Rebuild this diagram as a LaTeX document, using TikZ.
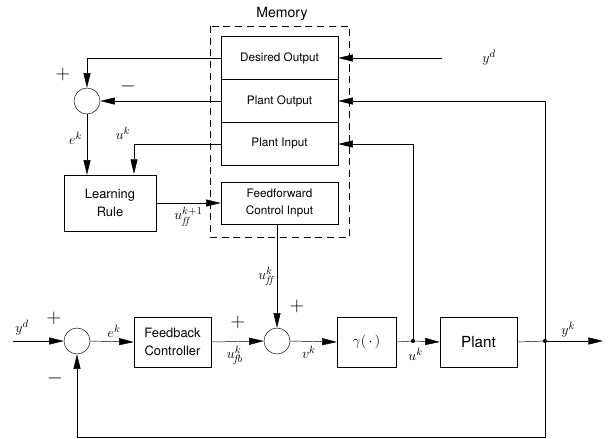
\documentclass[tikz,border=0pt]{standalone}
\usepackage{fontspec}
\setsansfont{TeX Gyre Heros}
\usetikzlibrary{arrows.meta}

\tikzset{
	block/.style={draw, thin, font=\sffamily\fontsize{11}{13}\selectfont, align=center, inner sep=0pt},
	memcell/.style={block, minimum width=3.51cm, minimum height=1.28cm, font=\sffamily\fontsize{10}{12}\selectfont},
	sum/.style={draw, thin, circle, minimum size=0.78cm, inner sep=0pt},
	sgn/.style={font=\fontsize{17}{17}\selectfont},
	lbl/.style={font=\fontsize{12.5}{14}\selectfont, inner sep=1pt},
	dot/.style={circle, fill, inner sep=0pt, minimum size=3.5pt},
}

\begin{document}
\begin{tikzpicture}[x=0.03cm, y=-0.03cm, >={Triangle[length=12.5pt, width=6pt]}, thin]
	\useasboundingbox (0,0) rectangle (610,438);

	% memory
	\node[font=\sffamily\fontsize{12}{14}\selectfont] (memlbl) at (282,14) {Memory};
	\draw[dashed, dash pattern=on 6pt off 4pt] (210,26) rectangle (349,237);
	\node[memcell] (desired) at (279.5,58) {Desired Output};
	\node[memcell] (poutput) at (279.5,101) {Plant Output};
	\node[memcell] (pinput) at (279.5,144) {Plant Input};
	\node[memcell, minimum height=1.26cm] (ff) at (279.5,203) {Feedforward\\[3pt]Control Input};

	% learning part
	\node[sum] (sumT) at (87,101) {};
	\node[block, minimum width=2.76cm, minimum height=1.68cm] (learn) at (110,203) {Learning\\[3pt]Rule};
	\coordinate (lrin) at (134,174);
	\coordinate (ydsrc) at (442,58);
	\node[lbl] (ydtop) at (489,58) {$y^d$};

	\node[sgn] at (63,74) {$+$};
	\node[sgn] at (128,86) {$-$};

	\draw[->] (desired.west) -| (sumT.north);
	\draw[->] (poutput.west) -- (sumT.east);
	\draw[->] (sumT.south) to node[lbl, left, pos=0.4, xshift=-3pt] {$e^k$} (sumT |- learn.north);
	\draw[->] (pinput.west) -| (lrin);
	\node[lbl] at (123,133) {$u^k$};
	\draw[->] (learn.east) to node[lbl, below, yshift=-2pt] {$u_{\mathit{ff}}^{k+1}$} (ff.west);
	\draw[->] (ydsrc) -- (desired.east);

	% control loop
	\coordinate (ydin) at (13,341);
	\node[sum] (sumA) at (77,341) {};
	\node[block, minimum width=2.31cm, minimum height=1.5cm] (fbc) at (172.5,342) {Feedback\\[3pt]Controller};
	\node[sum] (sumB) at (277,341) {};
	\node[block, minimum width=1.77cm, minimum height=1.5cm, font=\fontsize{13}{15}\selectfont] (gam) at (366.5,342) {$\gamma(\,\cdot\,)$};
	\coordinate (uk) at (413,341);
	\node[block, minimum width=2.31cm, minimum height=1.5cm, font=\sffamily\fontsize{13}{15}\selectfont] (plant) at (478.5,342) {Plant};
	\coordinate (yk) at (545,341);
	\coordinate (yout) at (603,341);
	\coordinate (fbl) at (545,437);

	\node[lbl] at (22,328) {$y^d$};
	\node[sgn] at (54,318) {$+$};
	\node[sgn] at (55,378) {$-$};
	\node[sgn] at (238,322) {$+$};
	\node[sgn] at (297,306) {$+$};

	\draw[->] (ydin) -- (sumA.west);
	\draw[->] (sumA.east) to node[lbl, above, pos=0.55, yshift=2pt] {$e^k$} (fbc.west);
	\draw[->] (fbc.east) to node[lbl, below, pos=0.45, yshift=-3pt] {$u_{\!f\!b}^k$} (sumB.west);
	\draw[->] (ff.south -| sumB) to node[lbl, left, pos=0.5, xshift=-2pt] {$u_{\mathit{ff}}^k$} (sumB.north);
	\draw[->] (sumB.east) to node[lbl, below, pos=0.4, yshift=-3pt] {$v^k$} (gam.west);
	\draw (gam.east) -- (uk);
	\draw[->] (uk) to node[lbl, below, pos=0.1, yshift=-5pt] {$u^k$} (plant.west);
	\draw (plant.east) -- (yk);
	\draw[->] (yk) to node[lbl, above, pos=0.4, yshift=2pt] {$y^k$} (yout);
	\draw[->] (uk) |- (pinput.east);
	\draw[->] (yk) |- (poutput.east);
	\draw[->] (yk) -- (fbl) -| (sumA.south);
	\node[dot] at (uk) {};
	\node[dot] at (yk) {};
\end{tikzpicture}
\end{document}
